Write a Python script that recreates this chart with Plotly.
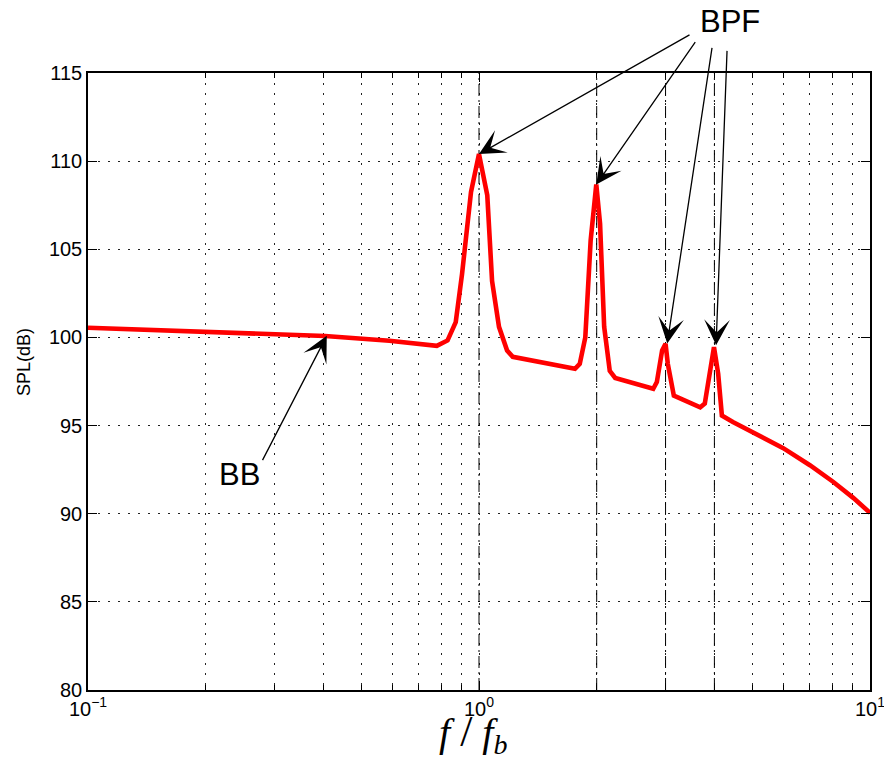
import numpy as np
import plotly.graph_objects as go

# Spectrum data (f/f_b, SPL dB)
freq = [0.1, 0.2, 0.33, 0.404, 0.59, 0.78, 0.831, 0.872, 0.905, 0.954, 1.0,
        1.05, 1.08, 1.125, 1.18, 1.22, 1.76, 1.81, 1.87, 1.93, 1.995, 2.04,
        2.09, 2.16, 2.23, 2.79, 2.85, 2.94, 3.0, 3.04, 3.15, 3.68, 3.78, 3.9,
        3.99, 4.09, 4.18, 4.46, 4.93, 6.0, 7.02, 8.06, 9.06, 10.0]
spl = [100.55, 100.34, 100.19, 100.08, 99.81, 99.52, 99.83, 100.87, 103.6, 108.25, 110.4,
       108.06, 103.2, 100.6, 99.26, 98.9, 98.22, 98.5, 100.0, 105.5, 108.67, 106.45,
       100.6, 98.1, 97.7, 97.09, 97.47, 99.26, 99.64, 98.5, 96.7, 96.04, 96.25, 98.1,
       99.45, 97.94, 95.57, 95.2, 94.72, 93.72, 92.75, 91.8, 90.9, 90.05]

harmonics = [1, 2, 3, 4]
y_range = [80, 115]

x_tickvals = [0.1, 1, 10]
x_ticktext = ["10<sup>\u22121</sup>", "10<sup>0</sup>", "10<sup>1</sup>"]
x_minor = [0.2, 0.3, 0.4, 0.5, 0.6, 0.7, 0.8, 0.9, 2, 3, 4, 5, 6, 7, 8, 9]
y_tickvals = [80, 85, 90, 95, 100, 105, 110, 115]

# BPF arrow targets (f/f_b, SPL) and tail offsets in px
bpf_x = [1.0, 1.995, 3.03, 4.04]
bpf_y = [110.4, 108.67, 99.66, 99.55]
bpf_ax = [212, 100, 45, 11]
bpf_ay = [-120, -144, -297, -296]
bb_x, bb_y = 0.408, 100.1
bb_ax, bb_ay = -65, 126

fig = go.Figure()

for h in harmonics:
    fig.add_trace(go.Scatter(x=[h, h], y=y_range, mode="lines",
                             line=dict(color="black", width=1, dash="12px,4px,2px,4px"),
                             hoverinfo="skip", showlegend=False))

fig.add_trace(go.Scatter(x=freq, y=spl, mode="lines",
                         line=dict(color="#ff0000", width=4.6),
                         showlegend=False))

arrow_style = dict(showarrow=True, arrowhead=3, arrowsize=3.3, arrowwidth=1.3,
                   arrowcolor="black")
annotations = []
for xv, yv, ax, ay in zip(bpf_x, bpf_y, bpf_ax, bpf_ay):
    annotations.append(dict(x=np.log10(xv), y=yv, xref="x", yref="y", text="",
                            ax=ax, ay=ay, **arrow_style))
annotations.append(dict(x=np.log10(bb_x), y=bb_y, xref="x", yref="y", text="",
                        ax=bb_ax, ay=bb_ay, **arrow_style))
annotations.append(dict(x=0.821, y=1.0835, xref="paper", yref="paper", text="BPF",
                        showarrow=False, font=dict(family="Liberation Sans", size=31, color="black"),
                        xanchor="center", yanchor="middle"))
annotations.append(dict(x=0.194, y=0.3485, xref="paper", yref="paper", text="BB",
                        showarrow=False, font=dict(family="Liberation Sans", size=31, color="black"),
                        xanchor="center", yanchor="middle"))
annotations.append(dict(x=-0.0818, y=0.5316, xref="paper", yref="paper", text="SPL(dB)",
                        showarrow=False, textangle=-90,
                        font=dict(family="Liberation Sans", size=18, color="black"),
                        xanchor="center", yanchor="middle"))
annotations.append(dict(x=0.492, y=-0.07, xref="paper", yref="paper",
                        text="<i>f</i> <span style='font-size:44px'>/</span> <i>f</i><sub><i>b</i></sub>",
                        showarrow=False,
                        font=dict(family="Liberation Serif", size=40, color="black"),
                        xanchor="center", yanchor="middle"))

grid_dash = "1.5px,8.5px"
fig.update_layout(
    width=884, height=765,
    margin=dict(l=88, r=14, t=73, b=75, autoexpand=False),
    paper_bgcolor="white", plot_bgcolor="white",
    annotations=annotations,
    xaxis=dict(type="log", range=[-1, 1.00001], tickmode="array", tickvals=x_tickvals,
               ticktext=x_ticktext, ticks="inside", ticklen=9, tickcolor="black",
               ticklabeloverflow="allow", automargin=False,
               showline=True, linecolor="black", linewidth=1.5, mirror="allticks",
               showgrid=True, gridcolor="#222", gridwidth=1, griddash=grid_dash,
               zeroline=False,
               tickfont=dict(family="Liberation Sans", size=20, color="black"),
               minor=dict(tickmode="array", tickvals=x_minor, ticks="inside", ticklen=5,
                          tickcolor="black", showgrid=True, gridcolor="#222",
                          gridwidth=1, griddash=grid_dash)),
    yaxis=dict(range=y_range, tickmode="array", tickvals=y_tickvals,
               ticks="inside", ticklen=9, tickcolor="black", automargin=False,
               showline=True, linecolor="black", linewidth=1.5, mirror="allticks",
               showgrid=True, gridcolor="#222", gridwidth=1, griddash=grid_dash,
               zeroline=False,
               tickfont=dict(family="Liberation Sans", size=20, color="black")),
)

fig.write_html("out.html")
